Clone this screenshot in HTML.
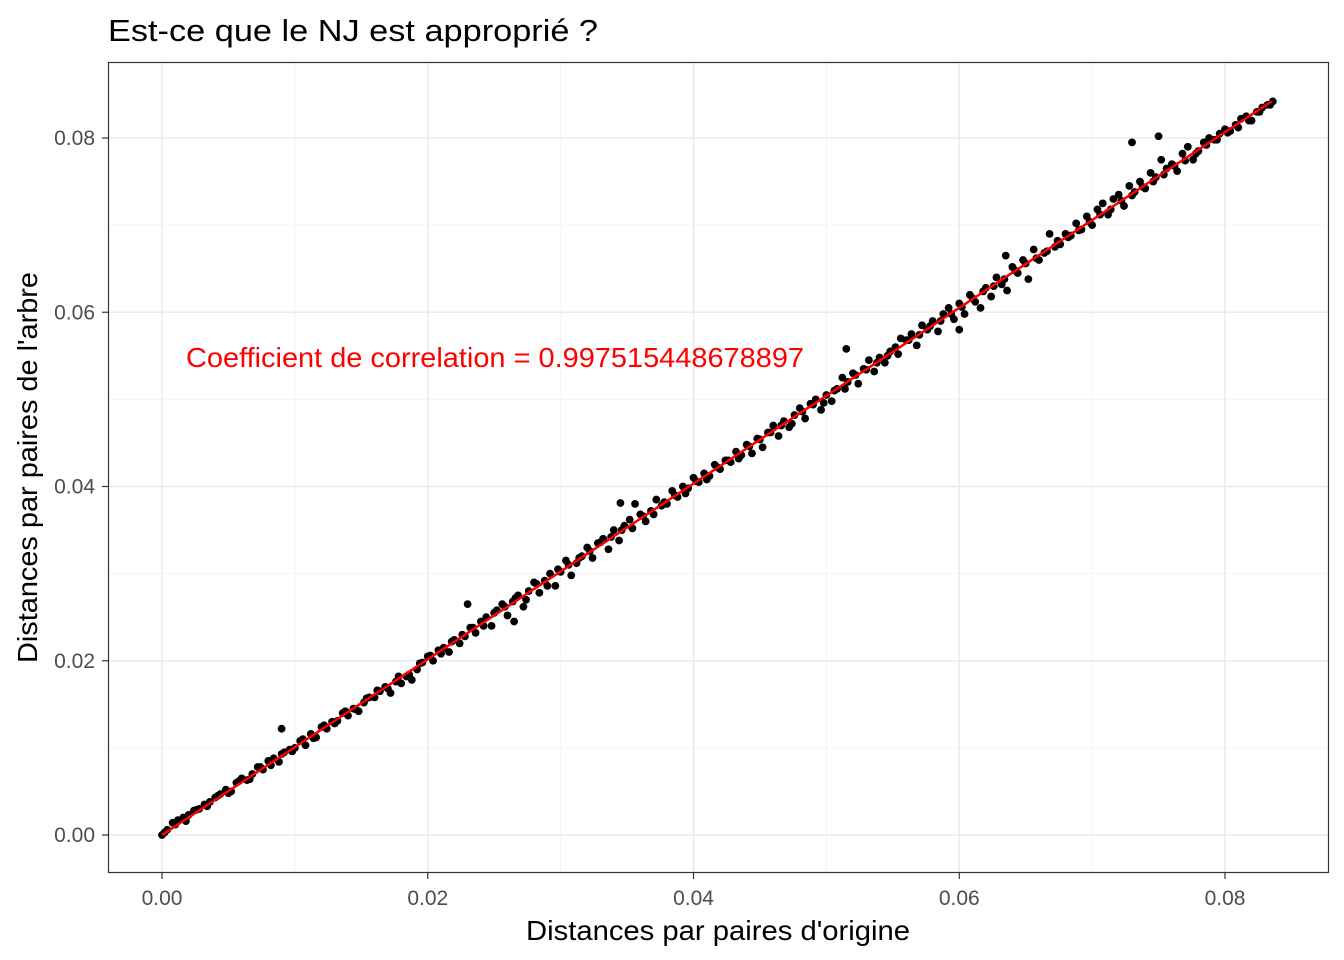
<!DOCTYPE html>
<html><head><meta charset="utf-8"><style>
body{margin:0;background:#fff;}
svg{display:block;font-family:"Liberation Sans",Arial,sans-serif;}
</style></head><body>
<svg id="chart" width="1344" height="960">
<text x="108" y="41" font-size="31" textLength="490" lengthAdjust="spacingAndGlyphs" fill="#000">Est-ce que le NJ est approprié ?</text>
<g id="grid"></g>
<g id="pts"></g>
<g id="fit"></g>
<rect x="108.5" y="62.5" width="1220" height="810" fill="none" stroke="#333" stroke-width="1.2"/>
<g id="axes"></g>
<text x="186" y="367" font-size="28" textLength="618" lengthAdjust="spacingAndGlyphs" fill="#ff0000">Coefficient de correlation = 0.997515448678897</text>
<text x="526" y="940" font-size="28" textLength="384" lengthAdjust="spacingAndGlyphs" fill="#000">Distances par paires d'origine</text>
<text transform="translate(37,663) rotate(-90)" font-size="28" textLength="391" lengthAdjust="spacingAndGlyphs" fill="#000">Distances par paires de l'arbre</text>
</svg>
<script>
const xTicks=[0,0.02,0.04,0.06,0.08];
const yTicks=[0,0.02,0.04,0.06,0.08];
const tickLabels=["0.00","0.02","0.04","0.06","0.08"];
const xs=[0,4,8,12,16,20,24,28,32,36,40,44,48,52,56,60,64,68,72,76,80,84,88,92,96,100,104,108,112,116,120,124,128,132,136,140,144,148,152,156,160,164,168,172,176,180,184,188,192,196,200,204,208,212,216,220,224,228,232,236,240,244,248,252,256,260,264,268,272,276,280,284,288,292,296,300,304,308,312,316,320,324,328,332,336,340,344,348,352,356,360,364,368,372,376,380,384,388,392,396,400,404,408,412,416,420,424,428,432,436,440,444,448,452,456,460,464,468,472,476,480,484,488,492,496,500,504,508,512,516,520,524,528,532,536,540,544,548,552,556,560,564,568,572,576,580,584,588,592,596,600,604,608,612,616,620,624,628,632,636,640,644,648,652,656,660,664,668,672,676,680,684,688,692,696,700,704,708,712,716,720,724,728,732,736,740,744,748,752,756,760,764,768,772,776,780,784,788,792,796,800,804,808,812,816,820,824,828,832,836,90,230,345,515,730,750,635,265,600];
const ys=[0,6,14,17,20,23,28,30,35,38,43,47,52,50,60,65,63,70,78,75,85,88,84,95,98,100,108,103,116,112,124,122,130,131,140,137,145,142,152,158,158,165,170,163,176,174,182,178,190,198,205,200,212,215,210,224,220,228,238,232,245,250,240,258,265,252,268,275,262,280,290,278,292,300,286,302,315,298,312,320,330,318,335,340,328,350,338,355,362,380,368,360,372,385,378,380,395,388,400,398,410,405,415,412,425,420,430,428,440,436,448,438,455,445,462,470,458,475,468,482,490,478,495,500,488,505,498,512,525,520,530,518,535,545,532,548,542,555,560,570,568,575,562,585,580,590,578,598,605,592,610,598,620,612,605,628,618,640,632,625,652,645,660,638,672,660,668,690,675,678,690,688,702,695,710,700,718,725,712,730,735,722,745,738,750,742,760,755,775,765,770,762,782,790,775,785,795,800,798,805,810,808,815,822,825,820,830,835,838,842,122,265,381,558,795,802,665,245,580];
const xs2=[2,10,18,26,34,42,50,58,66,74,82,90,98,106,114,122,130,138,146,154,162,170,178,186,194,202,210,218,226,234,242,250,258,266,274,282,290,298,306,314,322,330,338,346,354,362,370,378,386,394,402,410,418,426,434,442,450,458,466,474,482,490,498,506,514,522,530,538,546,554,562,570,578,586,594,602,610,618,626,634,642,650,658,666,674,682,690,698,706,714,722,730,738,746,754,762,770,778,786,794,802,810,818,826,834];
const ys2=[3,12,16,29,33,45,48,62,64,78,80,93,96,110,111,126,128,142,144,157,166,168,182,184,197,206,208,222,230,238,240,255,262,272,270,288,286,305,310,318,326,336,342,350,352,366,368,382,390,392,406,408,422,430,432,446,454,462,470,472,486,494,496,510,512,528,534,542,550,552,568,574,584,590,598,606,616,624,630,638,648,656,662,670,682,686,694,704,712,718,728,734,744,750,758,768,774,782,792,798,806,812,820,830,838];
const fitLine=[[0,0],[0.0835,0.0842]];
const NS="http://www.w3.org/2000/svg";
const X=v=>162+v/0.02*265.75;
const Y=v=>835-v/0.02*174.25;
function mk(t,a,p){const e=document.createElementNS(NS,t);for(const k in a)e.setAttribute(k,a[k]);p.appendChild(e);return e;}
const grid=document.getElementById('grid'),axes=document.getElementById('axes');
mk('rect',{x:108,y:62,width:1220,height:810,fill:'#fff'},grid);
for(let v=0.01;v<0.09;v+=0.02){
 const gx=mk('line',{x1:X(v),x2:X(v),y1:62,y2:872,stroke:'#f4f4f4','stroke-width':1},grid);
 
 const gy=mk('line',{x1:108,x2:1328,y1:Y(v),y2:Y(v),stroke:'#f4f4f4','stroke-width':1},grid);
 
}
xTicks.forEach((v,i)=>{
 const g=mk('line',{x1:X(v),x2:X(v),y1:62,y2:872,stroke:'#ebebeb','stroke-width':1.5},grid);
 
 mk('line',{x1:X(v),x2:X(v),y1:873,y2:879,stroke:'#333','stroke-width':1.2},axes);
 const t=mk('text',{x:X(v),y:905,'font-size':21,'text-anchor':'middle',fill:'#4d4d4d'},axes);
 t.textContent=tickLabels[i];
 
});
yTicks.forEach((v,i)=>{
 const g=mk('line',{x1:108,x2:1328,y1:Y(v),y2:Y(v),stroke:'#ebebeb','stroke-width':1.5},grid);
 
 mk('line',{x1:102,x2:108,y1:Y(v),y2:Y(v),stroke:'#333','stroke-width':1.2},axes);
 const t=mk('text',{x:95,y:Y(v)+7,'font-size':21,'text-anchor':'end',fill:'#4d4d4d'},axes);
 t.textContent=tickLabels[i];
 
});
const pts=document.getElementById('pts');
xs.forEach((x,i)=>{
 const c=mk('circle',{cx:X(x/10000),cy:Y(ys[i]/10000),r:3.9,fill:'#000'},pts);
 
});
xs2.forEach((x,i)=>{
 const c=mk('circle',{cx:X(x/10000),cy:Y(ys2[i]/10000),r:3.9,fill:'#000'},pts);
 
});
const l=mk('line',{x1:X(fitLine[0][0]),y1:Y(fitLine[0][1]),x2:X(fitLine[1][0]),y2:Y(fitLine[1][1]),stroke:'#ff0000','stroke-width':2.5},document.getElementById('fit'));


</script>
</body></html>
